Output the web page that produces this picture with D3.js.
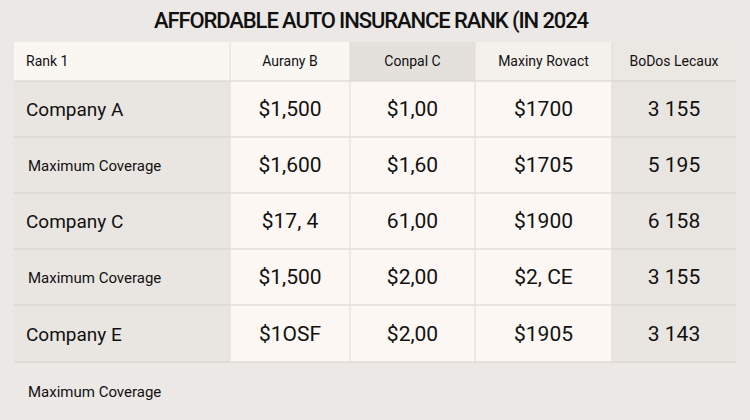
<!DOCTYPE html><html><head><meta charset="utf-8"><script src="https://cdn.jsdelivr.net/npm/d3@7"></script>
<style>body{margin:0;background:#ebe8e5;}</style></head><body><svg id="c" width="750" height="420"></svg>
<script>
const title="AFFORDABLE AUTO INSURANCE RANK (IN 2024";
const headers=["Rank 1","Aurany B","Conpal C","Maxiny Rovact","BoDos Lecaux"];
const rowLabels=["Company A","Maximum Coverage","Company C","Maximum Coverage","Company E","Maximum Coverage"];
const col2=["$1,500","$1,600","$17, 4","$1,500","$1OSF",""];
const col3=["$1,00","$1,60","61,00","$2,00","$2,00",""];
const col4=["$1700","$1705","$1900","$2, CE","$1905",""];
const col5=["3 155","5 195","6 158","3 155","3 143",""];
const colEdges=[14,230,350,475,612,736];
const rowEdges=[42,81,137,193,249,305,362,420];
const svg=d3.select("#c");
const F="Roboto, 'Liberation Sans', sans-serif";
svg.append("text").attr("x",371).attr("y",28).attr("text-anchor","middle").attr("font-family",F).attr("font-size",22).attr("font-weight",500).attr("letter-spacing",-1.1).attr("fill","#111").text(title);
const hbg=["#faf7f3","#faf7f3","#e4e0dc","#f4f0ec","#ebe7e3"];
const x=i=>colEdges[i], y=i=>rowEdges[i];
hbg.forEach((c,i)=>svg.append("rect").attr("x",x(i)).attr("y",y(0)).attr("width",x(i+1)-x(i)).attr("height",y(1)-y(0)).attr("fill",c));
for(let r=0;r<5;r++){["#e9e6e2","#fcf7f2","#fcf7f2","#fcf7f2","#e9e6e2"].forEach((c,i)=>svg.append("rect").attr("x",x(i)).attr("y",y(r+1)).attr("width",x(i+1)-x(i)).attr("height",y(r+2)-y(r+1)).attr("fill",c));}
for(let r=1;r<=6;r++) svg.append("line").attr("x1",14).attr("x2",736).attr("y1",y(r)).attr("y2",y(r)).attr("stroke","#d6d1cc");
for(let i=1;i<5;i++) svg.append("line").attr("x1",x(i)).attr("x2",x(i)).attr("y1",y(0)).attr("y2",y(6)).attr("stroke","#e0dbd6");
headers.forEach((h,i)=>svg.append("text").attr("x",i==0?26:(x(i)+x(i+1))/2).attr("y",66).attr("text-anchor",i==0?"start":"middle").attr("font-family",F).attr("font-size",14).attr("fill","#111").text(h));
const cols=[col2,col3,col4,col5];
rowLabels.forEach((l,r)=>{
  const big=l.startsWith("Company");
  svg.append("text").attr("x",big?26:28).attr("y",(y(r+1)+y(r+2))/2+(big?7:6)).attr("font-family",F).attr("font-size",big?19:15).attr("fill","#111").text(l);
  cols.forEach((c,i)=>svg.append("text").attr("x",(x(i+1)+x(i+2))/2).attr("y",(y(r+1)+y(r+2))/2+7).attr("text-anchor","middle").attr("font-family",F).attr("font-size",21).attr("fill","#111").text(c[r]));
});
</script></body></html>
